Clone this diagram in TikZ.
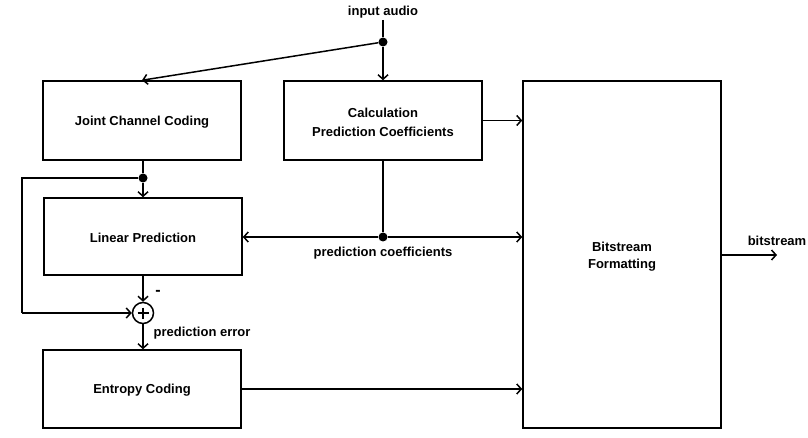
\documentclass[tikz,border=0pt]{standalone}
\usepackage{fontspec}
\setmainfont{Liberation Sans}
\usetikzlibrary{arrows.meta}
\begin{document}
\begin{tikzpicture}[x=1pt,y=-1pt,
  every node/.style={font=\fontsize{13}{16}\selectfont\bfseries},
  blk/.style={draw,line width=1.5pt,minimum width=198pt,minimum height=79pt,inner sep=0pt,align=center},
  txt/.style={inner sep=0pt,align=center},
  conn/.style={line width=1.5pt},
  arr/.style={conn,-{Straight Barb[length=4.5pt,width=10pt,line width=1.5pt]}},
  dot/.style={circle,fill,inner sep=0pt,minimum size=9pt},
  lbl/.style={inner sep=1pt}]
\useasboundingbox (0,0) rectangle (808,438);
\node[blk] (jcc) at (142,120.5) {};
\node[blk] (calc) at (383,120.5) {};
\node[blk,minimum height=77pt] (lp) at (143,236.5) {};
\node[blk,minimum height=78pt] (ec) at (142,389) {};
\node[blk,minimum height=347pt] (bf) at (622,254.5) {};
\node[txt] (jcct) at (142,122.5) {Joint Channel Coding};
\node[txt] (calct) at (383,122) {Calculation\\[3pt]Prediction Coefficients};
\node[txt] (lpt) at (143,238) {Linear Prediction};
\node[txt] (ect) at (142,390.5) {Entropy Coding};
\node[txt] (bft) at (622,257) {Bitstream\\[1pt]Formatting};
\node[draw,circle,line width=1.5pt,minimum size=21pt,inner sep=0pt] (sum) at (143,313) {};
\draw[line width=2.5pt] (sum.center) ++(-5.5,0) -- ++(11,0) (sum.center) ++(0,-5.5) -- ++(0,11);
\node[lbl] (in) at (383,12.5) {input audio};
\coordinate (intop) at (383,20);
\node[dot] (d1) at (383,42) {};
\node[dot] (d2) at (143,178) {};
\node[dot] (d3) at (383,237) {};
\coordinate (lft1) at (22,178);
\coordinate (lft2) at (22,313);
\coordinate (out) at (777,255);
\draw[conn] (intop) -- (d1);
\draw[arr] (d1) -- (calc.north);
\draw[arr] (d1) -- (jcc.north);
\draw[arr] (calc.east) -- (calc.east -| bf.west);
\draw[conn] (calc.south) -- (d3);
\draw[arr] (d3) -- (d3 -| lp.east);
\draw[arr] (d3) -- (d3 -| bf.west);
\node[lbl] (pc) at (383,253.5) {prediction coefficients};
\draw[conn] (jcc.south -| d2) -- (d2);
\draw[arr] (d2) -- (lp.north);
\draw[conn] (d2) -- (lft1) -- (lft2);
\draw[arr] (lft2) -- (sum.west);
\draw[arr] (lp.south) -- (sum.north);
\node[lbl,font=\fontsize{16}{16}\selectfont\bfseries] (minus) at (158,293) {-};
\draw[arr] (sum.south) -- (sum.south |- ec.north);
\node[lbl] (pe) at (202,333.5) {prediction error};
\draw[arr] (ec.east) -- (ec.east -| bf.west);
\draw[arr] (bf.east |- out) -- (out);
\node[lbl] (bs) at (777,241) {bitstream};
\end{tikzpicture}
\end{document}
